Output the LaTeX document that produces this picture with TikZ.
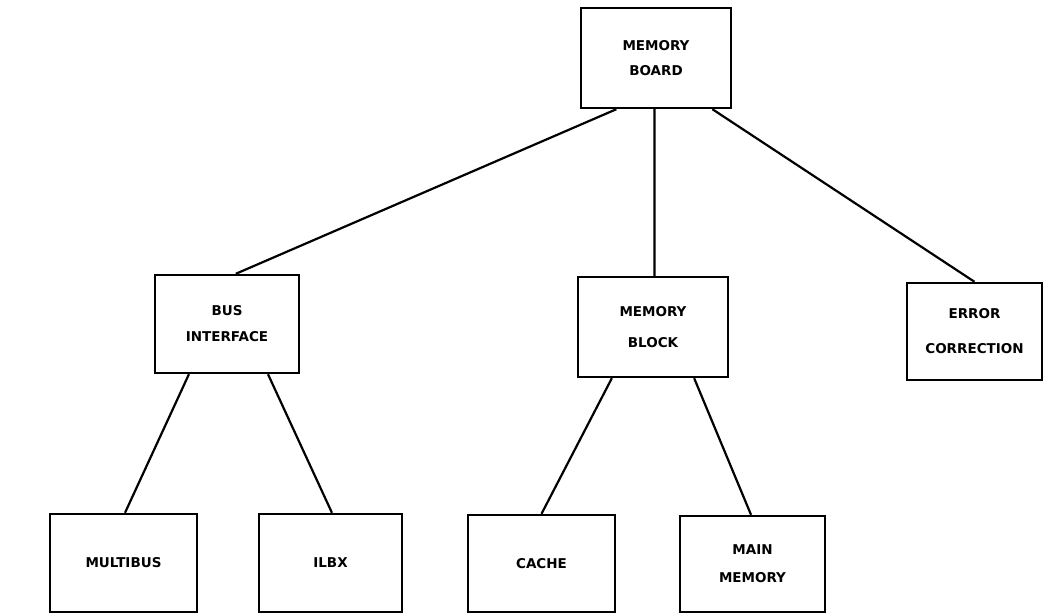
\documentclass[tikz,border=0pt]{standalone}
\usepackage{fontspec}
\setmainfont{DejaVu Sans}
\usetikzlibrary{calc}
\tikzset{
  box/.style={draw=black, line width=2.4pt, fill=white, rectangle, align=center,
    font=\fontsize{13.5}{16}\selectfont\bfseries, inner sep=0pt},
  link/.style={draw=black, line width=2.2pt}
}
\begin{document}
\begin{tikzpicture}[x=1pt,y=-1pt]
\useasboundingbox[fill=white] (0,0) rectangle (1046,614);
\begin{scope}
\clip (0,0) rectangle (1046,614);
% level 0
\node[box, minimum width=150pt, minimum height=100pt] (board) at (656,58) {MEMORY\\[9pt]BOARD};
% level 1
\node[box, minimum width=144pt, minimum height=98pt] (bus) at (227,324) {BUS\\[10pt]INTERFACE};
\node[box, minimum width=150pt, minimum height=100pt] (block) at (653,327) {MEMORY\\[15pt]BLOCK};
\node[box, minimum width=135pt, minimum height=97pt] (err) at (974.5,331.5) {ERROR\\[19pt]CORRECTION};
% level 2
\node[box, minimum width=147pt, minimum height=98pt] (multi) at (123.5,563) {MULTIBUS};
\node[box, minimum width=143pt, minimum height=98pt] (ilbx) at (330.5,563) {ILBX};
\node[box, minimum width=147pt, minimum height=97pt] (cache) at (541.5,563.5) {CACHE};
\node[box, minimum width=145pt, minimum height=96pt] (main) at (752.5,564) {MAIN\\[12pt]MEMORY};
% connectors
\draw[link] ($(board.south west)!.24!(board.south east)$) -- ($(bus.north west)!.56!(bus.north east)$);
\draw[link] ($(board.south west)!.49!(board.south east)$) -- ($(block.north west)!.51!(block.north east)$);
\draw[link] ($(board.south west)!.87!(board.south east)$) -- ($(err.north west)!.50!(err.north east)$);
\draw[link] ($(bus.south west)!.24!(bus.south east)$) -- ($(multi.north west)!.51!(multi.north east)$);
\draw[link] ($(bus.south west)!.78!(bus.south east)$) -- ($(ilbx.north west)!.51!(ilbx.north east)$);
\draw[link] ($(block.south west)!.23!(block.south east)$) -- ($(cache.north west)!.50!(cache.north east)$);
\draw[link] ($(block.south west)!.77!(block.south east)$) -- ($(main.north west)!.49!(main.north east)$);
\end{scope}
\end{tikzpicture}
\end{document}
